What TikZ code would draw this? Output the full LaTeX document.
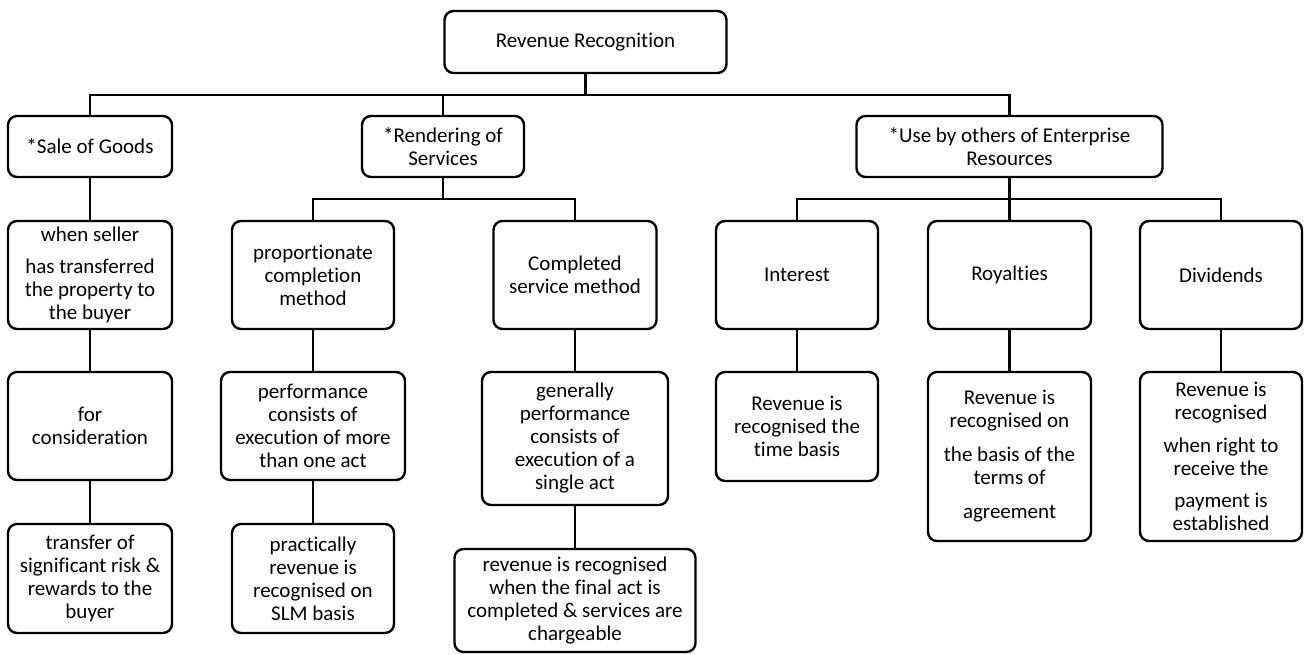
\documentclass[tikz,border=0pt]{standalone}
\usepackage{fontspec}
\setmainfont{Carlito}[Ligatures=NoCommon]
\begin{document}
\begin{tikzpicture}[x=1pt,y=-1pt,
  box/.style={draw, line width=2.4pt, rounded corners=9pt, align=center,
    inner sep=0pt, font=\fontsize{21}{23}\selectfont},
  link/.style={line width=2.4pt}]
\useasboundingbox (0,0) rectangle (1306,655);

% root
\node[box, minimum width=282pt, minimum height=62pt] (root) at (585.5,42) {Revenue Recognition};

% first level
\node[box, minimum width=164pt, minimum height=61pt] (sale) at (90,146.5) {*Sale of Goods};
\node[box, minimum width=162pt, minimum height=61pt] (rend) at (443,146.5) {*Rendering of\\Services};
\node[box, minimum width=306pt, minimum height=61pt] (use) at (1009.5,146.5) {*Use by others of Enterprise\\Resources};

% second level
\node[box, minimum width=164pt, minimum height=108pt] (seller) at (90,275)
  {when seller\\[9pt]has transferred\\the property to\\the buyer};
\node[box, minimum width=162pt, minimum height=108pt] (prop) at (313,275)
  {proportionate\\completion\\method};
\node[box, minimum width=163pt, minimum height=108pt] (compl) at (575,275)
  {Completed\\service method};
\node[box, minimum width=162pt, minimum height=108pt] (inter) at (797,275) {Interest};
\node[box, minimum width=163pt, minimum height=108pt] (roy) at (1009.5,275) {Royalties};
\node[box, minimum width=162pt, minimum height=108pt] (divi) at (1221,275) {Dividends};

% third level
\node[box, minimum width=164pt, minimum height=108pt] (consid) at (90,426)
  {for\\consideration};
\node[box, minimum width=184pt, minimum height=108pt] (perf) at (313,426)
  {performance\\consists of\\execution of more\\than one act};
\node[box, minimum width=186pt, minimum height=133pt] (gen) at (575,438.5)
  {generally\\performance\\consists of\\execution of a\\single act};
\node[box, minimum width=162pt, minimum height=109pt] (intrev) at (797,426.5)
  {Revenue is\\recognised the\\time basis};
\node[box, minimum width=163pt, minimum height=169pt] (royrev) at (1009.5,456.5)
  {Revenue is\\recognised on\\[11pt]the basis of the\\terms of\\[11pt]agreement};
\node[box, minimum width=162pt, minimum height=169pt] (divrev) at (1221,456.5)
  {Revenue is\\recognised\\[10pt]when right to\\receive the\\[9pt]payment is\\established};

% fourth level
\node[box, minimum width=164pt, minimum height=109pt] (transfer) at (90,578.5)
  {transfer of\\significant risk \&\\rewards to the\\buyer};
\node[box, minimum width=162pt, minimum height=109pt] (pract) at (313,578.5)
  {practically\\revenue is\\recognised on\\SLM basis};
\node[box, minimum width=241pt, minimum height=103pt] (final) at (575,600.5)
  {revenue is recognised\\when the final act is\\completed \& services are\\chargeable};

% branching points
\coordinate (j0) at (585.5,95);
\coordinate (j1) at (443,199);
\coordinate (j2) at (1009.5,199);

\draw[link] (root.south) -- (j0);
\draw[link] (j0) -| (sale.north);
\draw[link] (j0) -| (rend.north);
\draw[link] (j0) -| (use.north);

\draw[link] (sale.south) -- (seller.north);
\draw[link] (rend.south) -- (j1);
\draw[link] (j1) -| (prop.north);
\draw[link] (j1) -| (compl.north);
\draw[link] (use.south) -- (j2);
\draw[link] (j2) -| (inter.north);
\draw[link] (j2) -- (roy.north);
\draw[link] (j2) -| (divi.north);

\draw[link] (seller.south) -- (consid.north);
\draw[link] (consid.south) -- (transfer.north);
\draw[link] (prop.south) -- (perf.north);
\draw[link] (perf.south) -- (pract.north);
\draw[link] (compl.south) -- (gen.north);
\draw[link] (gen.south) -- (final.north);
\draw[link] (inter.south) -- (intrev.north);
\draw[link] (roy.south) -- (royrev.north);
\draw[link] (divi.south) -- (divrev.north);
\end{tikzpicture}
\end{document}
